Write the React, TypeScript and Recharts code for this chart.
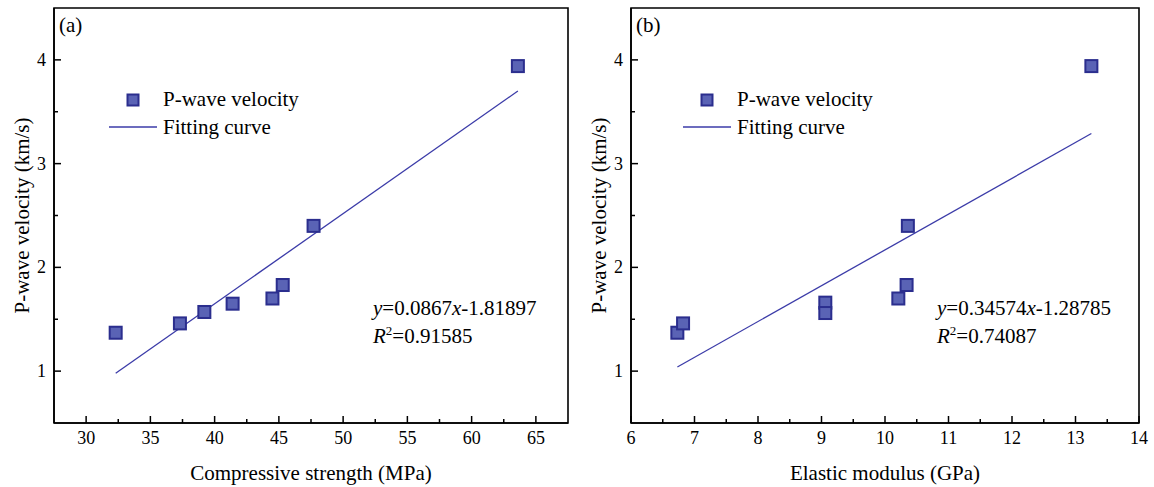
import React from 'react';
import { ScatterChart, Scatter, XAxis, YAxis, ReferenceArea } from 'recharts';

// readings from the figure
const compStrength = [32.3, 37.3, 39.2, 41.4, 44.5, 45.3, 47.7, 63.6];
const velocityA = [1.37, 1.46, 1.57, 1.65, 1.7, 1.83, 2.4, 3.94];
const fitXA = [32.3, 63.6];
const fitYA = [0.98, 3.7];

const elasticModulus = [6.73, 6.82, 9.06, 9.06, 10.21, 10.34, 10.36, 13.25];
const velocityB = [1.37, 1.46, 1.66, 1.56, 1.7, 1.83, 2.4, 3.94];
const fitXB = [6.73, 13.25];
const fitYB = [1.04, 3.29];

const xMajorA = [30, 35, 40, 45, 50, 55, 60, 65];
const xMinorA = [32.5, 37.5, 42.5, 47.5, 52.5, 57.5, 62.5];
const xMajorB = [6, 7, 8, 9, 10, 11, 12, 13, 14];
const xMinorB = [6.5, 7.5, 8.5, 9.5, 10.5, 11.5, 12.5, 13.5];
const yMajor = [1, 2, 3, 4];
const yMinor = [1.5, 2.5, 3.5];

const FONT = 'Liberation Serif';
const MARKER_FILL = '#5a63b5';
const MARKER_STROKE = '#2b2e8e';
const LINE_COLOR = '#3b3ba8';
const txt = { fontFamily: FONT };

const toPoints = (xs: number[], ys: number[]) => xs.map((x, i) => ({ x, y: ys[i] }));

const Square = (props: any) => {
  const { cx, cy } = props;
  if (cx == null || cy == null) return null;
  return (
    <rect x={cx - 6} y={cy - 6} width={12} height={12} fill={MARKER_FILL} stroke={MARKER_STROKE} strokeWidth={2} />
  );
};

const makeXTick = (majors: number[]) => (props: any) => {
  const { x, y, payload } = props;
  const major = majors.includes(payload.value);
  return (
    <g>
      <line x1={x} x2={x} y1={y} y2={y - (major ? 7 : 4)} stroke="#000" strokeWidth={1.5} />
      {major && (
        <text x={x} y={y + 21} textAnchor="middle" fontSize={18} style={txt} fill="#000">
          {payload.value}
        </text>
      )}
    </g>
  );
};

const YTick = (props: any) => {
  const { x, y, payload } = props;
  const major = yMajor.includes(payload.value);
  return (
    <g>
      <line x1={x} x2={x + (major ? 7 : 4)} y1={y} y2={y} stroke="#000" strokeWidth={1.5} />
      {major && (
        <text x={x - 8} y={y + 6} textAnchor="end" fontSize={18} style={txt} fill="#000">
          {payload.value}
        </text>
      )}
    </g>
  );
};

const xTitle = (text: string) => (props: any) => {
  const vb = props.viewBox || {};
  return (
    <text x={vb.x + vb.width / 2} y={vb.y + 57} textAnchor="middle" fontSize={21} style={txt} fill="#000">
      {text}
    </text>
  );
};

const yTitle = (props: any) => {
  const vb = props.viewBox || {};
  const cx = vb.x + vb.width - 32;
  const cy = vb.y + vb.height / 2;
  return (
    <text
      x={cx}
      y={cy}
      transform={`rotate(-90 ${cx} ${cy})`}
      textAnchor="middle"
      dominantBaseline="central"
      fontSize={21}
      style={txt}
      fill="#000"
    >
      P-wave velocity (km/s)
    </text>
  );
};

interface PanelProps {
  width: number;
  rightMargin: number;
  xs: number[];
  ys: number[];
  fitX: number[];
  fitY: number[];
  xDomain: [number, number];
  xMajor: number[];
  xMinor: number[];
  xLabel: string;
}

const Panel = ({ width, rightMargin, xs, ys, fitX, fitY, xDomain, xMajor, xMinor, xLabel }: PanelProps) => {
  const xTicks = [...xMajor, ...xMinor].sort((a, b) => a - b);
  const yTicks = [...yMajor, ...yMinor].sort((a, b) => a - b);
  return (
    <ScatterChart width={width} height={487} margin={{ top: 8, right: rightMargin, left: 9, bottom: 0 }}>
      <XAxis
        type="number"
        dataKey="x"
        domain={xDomain}
        allowDataOverflow
        ticks={xTicks}
        interval={0}
        tickSize={0}
        tickMargin={0}
        tick={makeXTick(xMajor)}
        height={64}
        axisLine={{ stroke: '#000', strokeWidth: 1.6 }}
        label={xTitle(xLabel)}
      />
      <YAxis
        type="number"
        dataKey="y"
        domain={[0.5, 4.5]}
        allowDataOverflow
        ticks={yTicks}
        interval={0}
        tickSize={0}
        tickMargin={0}
        tick={YTick}
        width={45}
        axisLine={{ stroke: '#000', strokeWidth: 1.6 }}
        label={yTitle}
      />
      <ReferenceArea
        x1={xDomain[0]}
        x2={xDomain[1]}
        y1={0.5}
        y2={4.5}
        fill="none"
        fillOpacity={0}
        stroke="#000"
        strokeWidth={1.6}
      />
      <Scatter
        data={toPoints(fitX, fitY)}
        line={{ stroke: LINE_COLOR, strokeWidth: 1.3 }}
        shape={() => null}
        isAnimationActive={false}
      />
      <Scatter data={toPoints(xs, ys)} shape={Square} isAnimationActive={false} />
    </ScatterChart>
  );
};

const Legend = ({ x0 }: { x0: number }) => (
  <g fontSize={21} fill="#000" style={txt}>
    <rect x={x0 + 18.5} y={94.5} width={11} height={11} fill={MARKER_FILL} stroke={MARKER_STROKE} strokeWidth={2} />
    <text x={x0 + 54} y={106} style={txt}>P-wave velocity</text>
    <line x1={x0} x2={x0 + 48} y1={127} y2={127} stroke={LINE_COLOR} strokeWidth={1.3} />
    <text x={x0 + 54} y={134} style={txt}>Fitting curve</text>
  </g>
);

const Equation = ({ x, slope, intercept, r2 }: { x: number; slope: string; intercept: string; r2: string }) => (
  <g fontSize={21} fill="#000" style={txt}>
    <text x={x} y={315} style={txt}>
      <tspan fontStyle="italic">y</tspan>
      <tspan>={slope}</tspan>
      <tspan fontStyle="italic">x</tspan>
      <tspan>-{intercept}</tspan>
    </text>
    <text x={x} y={343} style={txt}>
      <tspan fontStyle="italic">R</tspan>
      <tspan fontSize={13} dy={-8}>2</tspan>
      <tspan dy={8}>={r2}</tspan>
    </text>
  </g>
);

export default function App() {
  return (
    <div style={{ position: 'absolute', left: 0, top: 0, width: 1154, height: 487, background: '#fff' }}>
      <div style={{ position: 'absolute', left: 0, top: 0 }}>
        <Panel
          width={580}
          rightMargin={12}
          xs={compStrength}
          ys={velocityA}
          fitX={fitXA}
          fitY={fitYA}
          xDomain={[27.5, 67.5]}
          xMajor={xMajorA}
          xMinor={xMinorA}
          xLabel="Compressive strength (MPa)"
        />
      </div>
      <div style={{ position: 'absolute', left: 577, top: 0 }}>
        <Panel
          width={577}
          rightMargin={15}
          xs={elasticModulus}
          ys={velocityB}
          fitX={fitXB}
          fitY={fitYB}
          xDomain={[6, 14]}
          xMajor={xMajorB}
          xMinor={xMinorB}
          xLabel="Elastic modulus (GPa)"
        />
      </div>
      <svg width={1154} height={487} style={{ position: 'absolute', left: 0, top: 0, pointerEvents: 'none' }}>
        <text x={59} y={32} fontSize={21} fill="#000" style={txt}>(a)</text>
        <text x={636} y={32} fontSize={21} fill="#000" style={txt}>(b)</text>
        <Legend x0={109} />
        <Legend x0={683} />
        <Equation x={373} slope="0.0867" intercept="1.81897" r2="0.91585" />
        <Equation x={937} slope="0.34574" intercept="1.28785" r2="0.74087" />
      </svg>
    </div>
  );
}
